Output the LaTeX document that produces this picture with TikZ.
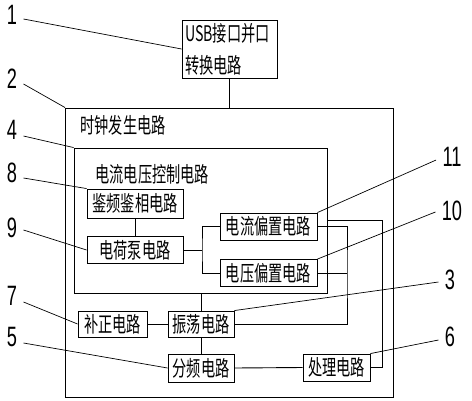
\documentclass[tikz,border=0pt]{standalone}
\usepackage{fontspec}
\newfontfamily\cjk[FakeStretch=0.66]{Noto Sans CJK SC}
\newfontfamily\numf[FakeStretch=0.65]{Liberation Sans}
\begin{document}
\begin{tikzpicture}[x=1pt,y=-1pt,line width=0.9pt,
  box/.style={draw, inner sep=0pt, font=\cjk\fontsize{21.5}{23}\selectfont},
  txt/.style={inner sep=0pt, anchor=west, font=\cjk\fontsize{21.5}{23}\selectfont},
  num/.style={inner ysep=1pt, inner xsep=6pt, font=\numf\fontsize{28}{28}\selectfont},
  lead/.style={line width=0.7pt}]
\useasboundingbox (0,0) rectangle (472,400);
% containers
\node[draw, inner sep=0pt, minimum width=327.5pt, minimum height=289.5pt] (clk) at (229.25,252.75) {};
\node[txt] (clkt) at (80,125) {时钟发生电路};
\node[draw, inner sep=0pt, minimum width=253pt, minimum height=145pt] (ctl) at (200.5,220.5) {};
\node[txt] (ctlt) at (95,174) {电流电压控制电路};
% boxes
\node[box, minimum width=95pt, minimum height=58pt, align=left, text width=89pt] (usb) at (229.5,49) {USB接口并口\\[9pt]转换电路};
\node[box, minimum width=96pt, minimum height=29pt] (jp) at (135,203.5) {鉴频鉴相电路};
\node[box, minimum width=96pt, minimum height=27pt] (cp) at (135,250) {电荷泵电路};
\node[box, minimum width=97pt, minimum height=27pt] (ib) at (268.5,226.5) {电流偏置电路};
\node[box, minimum width=97pt, minimum height=27pt] (vb) at (268.5,273) {电压偏置电路};
\node[box, minimum width=66pt, minimum height=26pt] (osc) at (201,324) {振荡电路};
\node[box, minimum width=69pt, minimum height=26pt] (cor) at (112.5,324) {补正电路};
\node[box, minimum width=66pt, minimum height=28pt] (div) at (201,368) {分频电路};
\node[box, minimum width=67pt, minimum height=27pt] (proc) at (336.5,367.5) {处理电路};
% connectors
\draw (usb.south) -- (usb.south |- clk.north);
\draw (jp.south) -- (cp.north);
\coordinate (j1) at (202,250);
\draw (cp.east) -- (j1);
\draw (ib.west) -| (j1) |- (vb.west);
\coordinate (rx) at (347,273);
\draw (ib.east) -| (rx) |- (osc.east);
\draw (vb.east) -- (rx);
\coordinate (r2) at (382,220);
\draw (r2 -| ctl.east) -- (r2) |- (proc.east);
\draw (ctl.south -| osc.north) -- (osc.north);
\draw (osc.south) -- (div.north);
\draw (cor.east) -- (osc.west);
\draw (div.east) -- (proc.west);
% numbers
\node[num] (n1) at (12,15) {1};
\node[num] (n2) at (12,79) {2};
\node[num] (n4) at (12,130) {4};
\node[num] (n8) at (12,173) {8};
\node[num] (n9) at (12,228) {9};
\node[num] (n7) at (12,296) {7};
\node[num] (n5) at (12,337) {5};
\node[num] (n11) at (452,157) {11};
\node[num] (n10) at (452,211) {10};
\node[num] (n3) at (450,280) {3};
\node[num] (n6) at (450,337) {6};
% leaders
\draw[lead] ([yshift=-4pt]n1.east) -- (usb.west);
\draw[lead] ([yshift=-5pt]n2.east) -- (clk.north west);
\draw[lead] ([yshift=-6pt]n4.east) -- (ctl.north west);
\draw[lead] ([yshift=-5pt]n8.east) -- (jp.north west);
\draw[lead] ([yshift=-2pt]n9.east) -- (cp.west);
\draw[lead] ([yshift=-6pt]n7.east) -- (cor.west);
\draw[lead] ([yshift=-6pt]n5.east) -- (div.west);
\draw[lead] ([yshift=-3pt]n11.west) -- (ib.north east);
\draw[lead] ([yshift=-1pt]n10.west) -- (vb.north east);
\draw[lead] ([yshift=-2pt]n3.west) -- (osc.north east);
\draw[lead] ([yshift=-3pt]n6.west) -- (proc.north east);
\end{tikzpicture}
\end{document}
